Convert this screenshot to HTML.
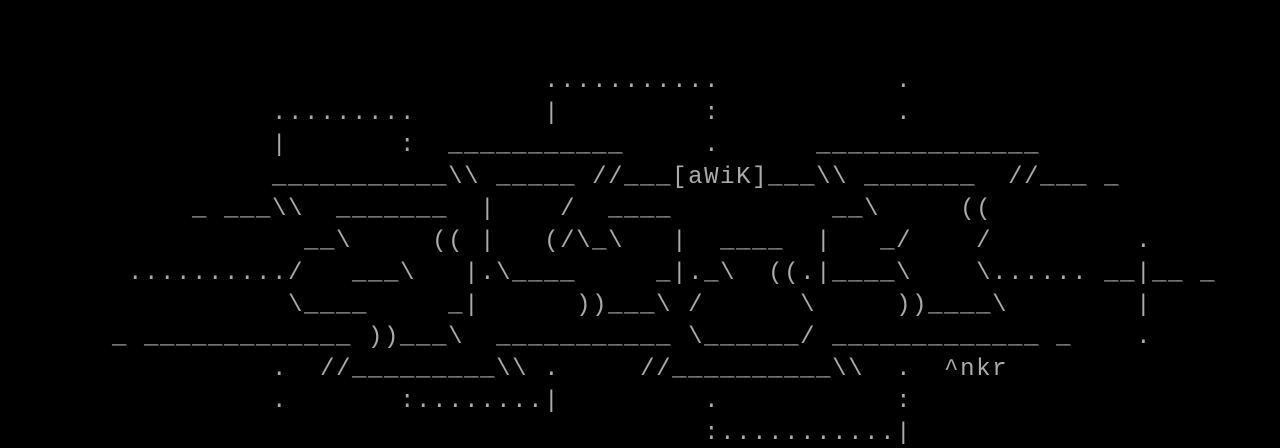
<!DOCTYPE html>
<html><head><meta charset="utf-8"><style>
html,body{margin:0;padding:0;background:#000;width:1280px;height:448px;overflow:hidden}
pre{margin:0;padding:2px 0 0 0;font-family:"Liberation Mono",monospace;font-size:24px;letter-spacing:1.6px;line-height:32px;color:#aaaaaa;white-space:pre}
</style></head><body><pre>


                                  ...........           .
                 .........        |         :           .
                 |       :  ___________     .      ______________
                 ___________\\ _____ //___[aWiK]___\\ _______  //___ _
            _ ___\\  _______  |    /  ____          __\     ((
                   __\     (( |   (/\_\   |  ____  |   _/    /         .
        ........../   ___\   |.\____     _|._\  ((.|____\    \...... __|__ _
                  \____     _|      ))___\ /      \     ))____\        |
       _ _____________ ))___\  ___________ \______/ _____________ _    .
                 .  //_________\\ .     //__________\\  .  ^nkr
                 .       :........|         .           :
                                            :...........|</pre></body></html>
